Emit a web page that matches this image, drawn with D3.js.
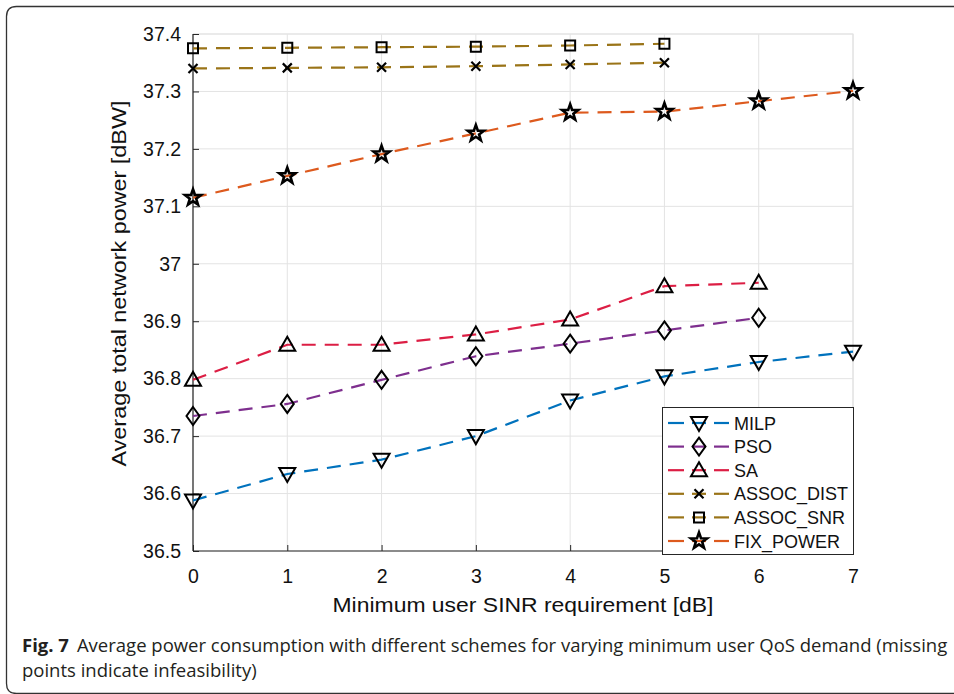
<!DOCTYPE html>
<html><head><meta charset="utf-8">
<script src="https://cdn.jsdelivr.net/npm/d3@7"></script>
<style>body{margin:0;background:#fff}svg{display:block}
.lib{font-family:'Liberation Sans',Arial,Helvetica,sans-serif}</style>
</head><body>
<svg id="c" width="954" height="694"></svg>
<script>
const xValues = [0,1,2,3,4,5,6,7];
const xTicks = [0,1,2,3,4,5,6,7];
const yTicks = [36.5,36.6,36.7,36.8,36.9,37,37.1,37.2,37.3,37.4];
const yTickLabels = ["36.5","36.6","36.7","36.8","36.9","37","37.1","37.2","37.3","37.4"];
const seriesNames = ["MILP","PSO","SA","ASSOC_DIST","ASSOC_SNR","FIX_POWER"];
const milp = [36.588,36.634,36.659,36.700,36.762,36.804,36.829,36.847];
const pso = [36.735,36.756,36.798,36.839,36.861,36.884,36.906];
const sa = [36.798,36.859,36.859,36.877,36.903,36.961,36.967];
const assocDist = [37.340,37.341,37.342,37.344,37.347,37.350];
const assocSnr = [37.375,37.376,37.377,37.378,37.380,37.383];
const fixPower = [37.115,37.153,37.191,37.227,37.263,37.265,37.283,37.301];
const colors = ["#0072BD","#7E2F8E","#DC1E44","#9A7418","#9A7418","#DD5A1E"];
const markers = ["tri-down","diamond","tri-up","x","square","star"];
const seriesValues = [milp,pso,sa,assocDist,assocSnr,fixPower];

const svg = d3.select("#c");
const L=193,R=853,T=34,B=551;
const x = d3.scaleLinear().domain([0,7]).range([L,R]);
const y = d3.scaleLinear().domain([36.5,37.4]).range([B,T]);

// outer frame
svg.append("path").attr("d","M960,6.5 L16.5,6.5 Q6.5,6.5 6.5,16.5 L6.5,683.5 Q6.5,693.5 16.5,693.5 L960,693.5")
  .attr("fill","none").attr("stroke","#333").attr("stroke-width",1.3);

// grid
const g = svg.append("g");
g.selectAll(".gx").data(xTicks).enter().append("line")
  .attr("x1",d=>x(d)).attr("x2",d=>x(d)).attr("y1",T).attr("y2",B)
  .attr("stroke","#e3e3e3").attr("stroke-width",1);
g.selectAll(".gy").data(yTicks).enter().append("line")
  .attr("x1",L).attr("x2",R).attr("y1",d=>y(d)).attr("y2",d=>y(d))
  .attr("stroke","#e3e3e3").attr("stroke-width",1);
g.append("path").attr("d",`M${L},${T}H${R}V${B}`).attr("fill","none").attr("stroke","#e3e3e3").attr("stroke-width",1.2);

// axes
const xAxis = d3.axisBottom(x).tickValues(xTicks).tickSize(-6).tickPadding(18.5).tickFormat(d3.format("d"));
const yAxis = d3.axisLeft(y).tickValues(yTicks).tickSize(-6).tickPadding(12).tickFormat((d,i)=>yTickLabels[i]);
const gx = svg.append("g").attr("transform",`translate(0,${B})`).call(xAxis);
const gy = svg.append("g").attr("transform",`translate(${L},0)`).call(yAxis);
[gx,gy].forEach(a=>{
  a.attr("font-family",null).attr("font-size",null);
  a.select(".domain").attr("stroke","#262626").attr("stroke-width",1.2);
  a.selectAll(".tick line").attr("stroke","#262626").attr("stroke-width",1);
  a.selectAll("text").attr("class","lib").style("font-size","19.5px").attr("fill","#111");
});
gy.select(".domain").attr("d",`M0,${B}V${T}`);
gx.select(".domain").attr("d",`M${L},0H${R}`);

// axis titles
svg.append("text").attr("class","lib").attr("x",(L+R)/2).attr("y",612).attr("text-anchor","middle")
  .style("font-size","21px").attr("fill","#111").attr("textLength",381).attr("lengthAdjust","spacingAndGlyphs")
  .text("Minimum user SINR requirement [dB]");
svg.append("text").attr("class","lib").attr("transform",`translate(126,${(T+B)/2 - 9}) rotate(-90)`).attr("text-anchor","middle")
  .style("font-size","21px").attr("fill","#111").attr("textLength",366).attr("lengthAdjust","spacingAndGlyphs")
  .text("Average total network power [dBW]");

function drawMarker(sel, type){
  const s = sel.append("path").attr("fill","none").attr("stroke","#000").attr("stroke-width",2).attr("stroke-linejoin","miter");
  let d;
  if(type==="tri-down") d="M-8,-6 L8,-6 L0,8 Z";
  else if(type==="tri-up") d="M-8,6 L8,6 L0,-8 Z";
  else if(type==="diamond") d="M0,-9 L6.5,0 L0,9 L-6.5,0 Z";
  else if(type==="square") d="M-5,-5 H5 V5 H-5 Z";
  else if(type==="x") d="M-4.5,-4.5 L4.5,4.5 M-4.5,4.5 L4.5,-4.5";
  else if(type==="star"){
    const pts=[];
    for(let k=0;k<10;k++){const r=k%2?3.4:8.5;const a=-Math.PI/2+k*Math.PI/5;pts.push([r*Math.cos(a),r*Math.sin(a)]);}
    d="M"+pts.map(p=>p[0].toFixed(2)+","+p[1].toFixed(2)).join("L")+"Z";
  }
  s.attr("d",d);
  if(type==="x") s.attr("stroke-width",2.2);
  if(type==="star") s.attr("stroke-width",2.6);
}

const line = d3.line().x((d,i)=>x(xValues[i])).y(d=>y(d));
seriesValues.forEach((vals,si)=>{
  svg.append("path").datum(vals).attr("d",line).attr("fill","none")
    .attr("stroke",colors[si]).attr("stroke-width",2.2).attr("stroke-dasharray","14,9");
});
seriesValues.forEach((vals,si)=>{
  vals.forEach((v,i)=>{
    const m = svg.append("g").attr("transform",`translate(${x(xValues[i])},${y(v)})`);
    drawMarker(m, markers[si]);
  });
});

// legend
const lg = svg.append("g");
lg.append("rect").attr("x",662.5).attr("y",407.5).attr("width",191).attr("height",147)
  .attr("fill","#fff").attr("stroke","#262626").attr("stroke-width",1);
seriesNames.forEach((n,i)=>{
  const yy = 423 + i*23.6;
  lg.append("line").attr("x1",668).attr("x2",684).attr("y1",yy).attr("y2",yy).attr("stroke",colors[i]).attr("stroke-width",2.2);
  lg.append("line").attr("x1",692).attr("x2",706).attr("y1",yy).attr("y2",yy).attr("stroke",colors[i]).attr("stroke-width",2.2);
  lg.append("line").attr("x1",714).attr("x2",729).attr("y1",yy).attr("y2",yy).attr("stroke",colors[i]).attr("stroke-width",2.2);
  const m = lg.append("g").attr("transform",`translate(699,${yy})`);
  drawMarker(m, markers[i]);
  lg.append("text").attr("class","lib").attr("x",734).attr("y",yy+6.5)
    .style("font-size","18px").attr("fill","#111").text(n);
});

// caption
const cap = svg.append("text").attr("x",22).attr("y",652).style("font-family","'Open Sans', sans-serif")
  .style("font-size","18.5px").attr("fill","#231f20");
cap.append("tspan").attr("font-weight","bold").text("Fig. 7");
cap.append("tspan").attr("dx",8).text("Average power consumption with different schemes for varying minimum user QoS demand (missing");
svg.append("text").attr("x",22).attr("y",677).style("font-family","'Open Sans', sans-serif")
  .style("font-size","18.5px").attr("fill","#231f20").text("points indicate infeasibility)");
</script>
</body></html>
